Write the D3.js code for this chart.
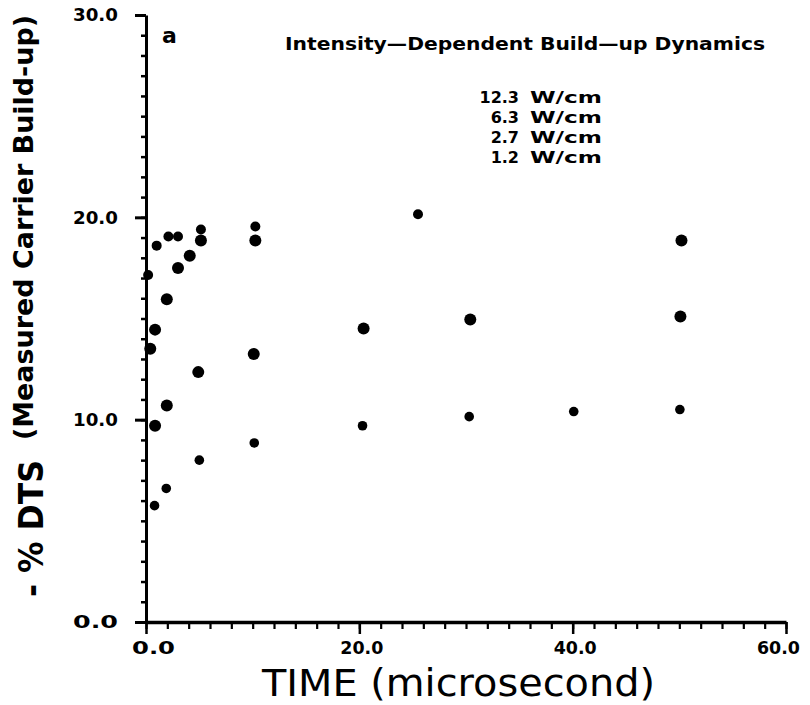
<!DOCTYPE html>
<html>
<head>
<meta charset="utf-8">
<script src="https://cdn.jsdelivr.net/npm/d3@7"></script>
<style>
  body { margin: 0; background: #fff; }
  svg { display: block; }
  text { fill: #000; }
</style>
</head>
<body>
<div id="chart"></div>
<script>
// series: time (microsecond) and -% DTS
const t12 = [0.2, 1.0, 2.1, 3.0, 5.15, 10.25, 25.5];
const v12 = [17.15, 18.6, 19.05, 19.05, 19.4, 19.55, 20.15];

const t6 = [0.4, 0.85, 1.95, 3.0, 4.1, 5.15, 10.25, 50.2];
const v6 = [13.5, 14.45, 15.95, 17.5, 18.1, 18.85, 18.85, 18.85];

const t27 = [0.85, 1.95, 4.9, 10.1, 20.4, 30.4, 50.1];
const v27 = [9.7, 10.7, 12.35, 13.25, 14.5, 14.95, 15.1];

const t12b = [0.8, 1.9, 5.0, 10.15, 20.3, 30.3, 40.1, 50.05];
const v12b = [5.75, 6.6, 8.0, 8.85, 9.7, 10.15, 10.4, 10.5];

const legendNums = ['12.3', '6.3', '2.7', '1.2'];
const legendUnit = 'W/cm';
const xMajor = [0, 20, 40, 60];
const yMajor = [0, 10, 20, 30];

const width = 810, height = 705;

const svg = d3.select('#chart').append('svg')
    .attr('width', width)
    .attr('height', height);

const x = d3.scaleLinear().domain([0, 60]).range([146, 786]);
const y = d3.scaleLinear().domain([0, 30]).range([622, 15]);

const fmt = d3.format('.1f');

// minor ticks
svg.append('g')
    .attr('transform', `translate(${x(0)},0)`)
    .call(d3.axisLeft(y).tickValues(d3.range(0, 31, 1)).tickSize(5).tickFormat(''))
    .call(g => g.select('.domain').remove())
    .selectAll('line').attr('stroke-width', 2.5);

svg.append('g')
    .attr('transform', `translate(0,${y(0)})`)
    .call(d3.axisBottom(x).tickValues(d3.range(0, 61, 2)).tickSize(7).tickFormat(''))
    .call(g => g.select('.domain').remove())
    .selectAll('line').attr('stroke-width', 2.2);

// major ticks + labels
const yAxis = svg.append('g')
    .attr('transform', `translate(${x(0)},0)`)
    .call(d3.axisLeft(y).tickValues(yMajor).tickSize(11).tickPadding(17).tickFormat(fmt).tickSizeOuter(0));
yAxis.select('.domain').attr('stroke-width', 3);
yAxis.selectAll('line').attr('stroke-width', 3);
yAxis.selectAll('text')
    .style('font-family', 'DejaVu Sans')
    .style('font-weight', 'bold')
    .style('font-size', '18px')
    .attr('textLength', 45)
    .attr('lengthAdjust', 'spacingAndGlyphs');

const xAxis = svg.append('g')
    .attr('transform', `translate(0,${y(0)})`)
    .call(d3.axisBottom(x).tickValues(xMajor).tickSize(12).tickPadding(8).tickFormat(fmt).tickSizeOuter(0));
xAxis.select('.domain').attr('stroke-width', 3.5);
xAxis.selectAll('line').attr('stroke-width', 2.5);
xAxis.selectAll('text')
    .attr('dx', d => d === 0 ? 7 : (d === 60 ? -8 : 2))
    .style('font-family', 'DejaVu Sans')
    .style('font-weight', 'bold')
    .style('font-size', '17px')
    .attr('textLength', 43)
    .attr('lengthAdjust', 'spacingAndGlyphs');

// points
const series = [
    { t: t12, v: v12, r: 5 },
    { t: t6, v: v6, r: 6 },
    { t: t27, v: v27, r: 6 },
    { t: t12b, v: v12b, r: 4.8 }
];

series.forEach(s => {
    svg.append('g').selectAll('circle')
        .data(s.t.map((d, i) => [d, s.v[i]]))
        .enter().append('circle')
        .attr('cx', d => x(d[0]))
        .attr('cy', d => y(d[1]))
        .attr('r', s.r)
        .attr('fill', '#000');
});

// titles
svg.append('text')
    .attr('x', 262).attr('y', 696)
    .attr('textLength', 393)
    .attr('lengthAdjust', 'spacingAndGlyphs')
    .style('font-family', 'DejaVu Sans')
    .style('font-size', '37px')
    .text('TIME (microsecond)');

svg.append('text')
    .attr('transform', 'translate(43,597) rotate(-90)')
    .attr('textLength', 137)
    .attr('lengthAdjust', 'spacingAndGlyphs')
    .style('font-family', 'DejaVu Sans')
    .style('font-weight', 'bold')
    .style('font-size', '34px')
    .text('- % DTS');

svg.append('text')
    .attr('transform', 'translate(33,440) rotate(-90)')
    .attr('textLength', 425)
    .attr('lengthAdjust', 'spacingAndGlyphs')
    .style('font-family', 'DejaVu Sans')
    .style('font-weight', 'bold')
    .style('font-size', '27px')
    .text('(Measured Carrier Build-up)');

svg.append('text')
    .attr('x', 162).attr('y', 43)
    .style('font-family', 'DejaVu Sans')
    .style('font-weight', 'bold')
    .style('font-size', '22px')
    .text('a');

svg.append('text')
    .attr('x', 285).attr('y', 50)
    .attr('textLength', 480)
    .attr('lengthAdjust', 'spacingAndGlyphs')
    .style('font-family', 'DejaVu Sans')
    .style('font-weight', 'bold')
    .style('font-size', '18px')
    .text('Intensity\u2014Dependent Build\u2014up Dynamics');

// legend lines
const leg = svg.append('g');
legendNums.forEach((n, i) => {
    const ly = 103 + i * 20;
    leg.append('text')
        .attr('x', 519).attr('y', ly)
        .attr('text-anchor', 'end')
        .style('font-family', 'DejaVu Sans')
        .style('font-weight', 'bold')
        .style('font-size', '16px')
        .text(n);
    leg.append('text')
        .attr('x', 530).attr('y', ly)
        .style('font-family', 'DejaVu Sans')
        .style('font-weight', 'bold')
        .style('font-size', '16px')
        .attr('textLength', 72)
        .attr('lengthAdjust', 'spacingAndGlyphs')
        .text(legendUnit);
});
</script>
</body>
</html>
